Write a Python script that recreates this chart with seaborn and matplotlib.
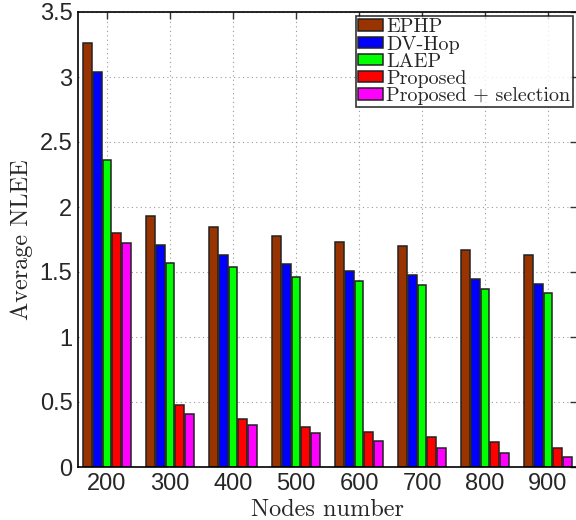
import numpy as np
import pandas as pd
import matplotlib
matplotlib.use('Agg')
import matplotlib.pyplot as plt
import seaborn as sns
from matplotlib.ticker import FuncFormatter

# values
nodes = ["200", "300", "400", "500", "600", "700", "800", "900"]
methods = ["EPHP", "DV-Hop", "LAEP", "Proposed", "Proposed + selection"]
ephp = [3.26, 1.93, 1.85, 1.78, 1.73, 1.70, 1.67, 1.63]
dvhop = [3.04, 1.71, 1.63, 1.56, 1.51, 1.48, 1.45, 1.41]
laep = [2.36, 1.57, 1.54, 1.46, 1.43, 1.40, 1.37, 1.34]
proposed = [1.80, 0.48, 0.37, 0.31, 0.27, 0.23, 0.19, 0.15]
proposed_sel = [1.72, 0.41, 0.32, 0.26, 0.20, 0.15, 0.11, 0.08]
colors = ["#993300", "#0000ff", "#00ff00", "#ff0000", "#ff00ff"]

series = [ephp, dvhop, laep, proposed, proposed_sel]
df = pd.DataFrame({
    "nodes": np.tile(nodes, len(methods)),
    "method": np.repeat(methods, len(nodes)),
    "nlee": np.concatenate(series),
})

sns.set_style("white")
plt.rcParams['font.family'] = ['Liberation Sans', 'DejaVu Sans']

fig = plt.figure(figsize=(5.76, 5.2), dpi=100)
ax = fig.add_axes([78 / 576, 53 / 520, 499 / 576, 455 / 520])

sns.barplot(data=df, x="nodes", y="nlee", hue="method", order=nodes,
            hue_order=methods, palette=colors, width=0.78, gap=0.1,
            edgecolor="#222222", linewidth=1.1, saturation=1, ax=ax)

ax.set_xlim(-0.46, 7.46)
ax.set_ylim(0, 3.5)
ax.set_yticks(np.arange(0, 3.51, 0.5))
ax.yaxis.set_major_formatter(FuncFormatter(lambda v, p: f"{v:g}"))
ax.set_axisbelow(True)
ax.grid(True, linestyle=(0, (1, 3)), color="#999999", linewidth=0.8)
ax.tick_params(direction="in", length=5, width=1, top=True, right=True,
               labelsize=17, color="#333333", pad=4)
for s in ax.spines.values():
    s.set_color("black")
    s.set_linewidth(1.2)

serif = {"family": "cmr10", "size": 17.5}
ax.set_xlabel("Nodes number", fontdict=serif, labelpad=3)
ax.set_ylabel("Average NLEE", fontdict=serif, labelpad=5)

leg = ax.legend(loc="upper right", frameon=True, fancybox=False,
                prop={"family": "cmr10", "size": 14.5},
                borderpad=0.12, labelspacing=-0.04, handlelength=1.25,
                handleheight=0.5, handletextpad=0.15, borderaxespad=0.2)
leg.get_frame().set_edgecolor("black")
leg.get_frame().set_linewidth(1.2)

fig.savefig("out.png", dpi=100)
